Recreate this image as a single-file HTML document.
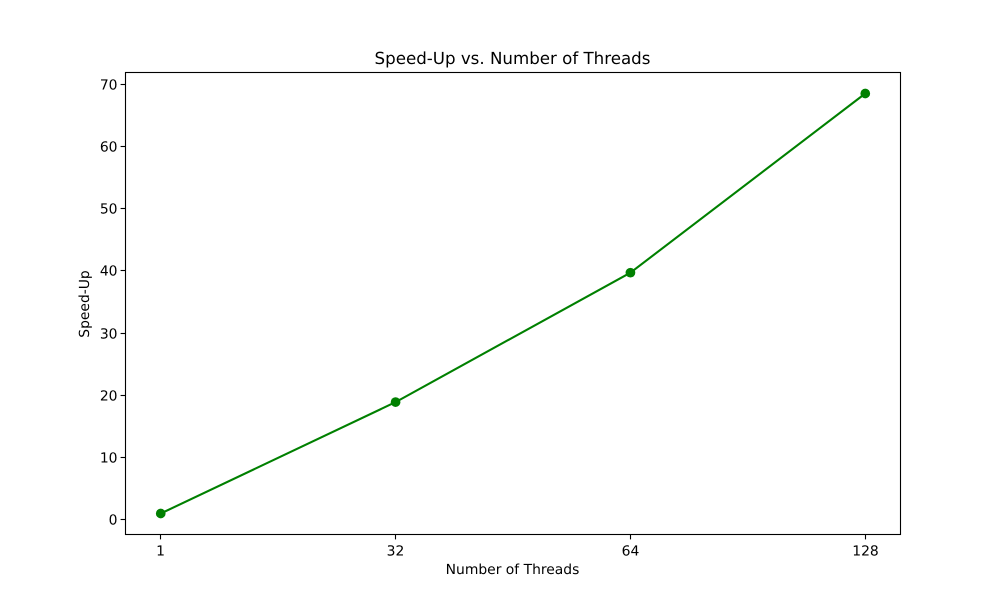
<!DOCTYPE html>
<html lang="en">
<head>
<meta charset="utf-8">
<title>Speed-Up vs. Number of Threads</title>
<style>
  html, body { margin: 0; padding: 0; background: #fff; }
  svg { display: block; font-family: "DejaVu Sans", "Liberation Sans", sans-serif; fill: #000; text-rendering: geometricPrecision; }
</style>
</head>
<body>
<svg id="chart" xmlns="http://www.w3.org/2000/svg" width="1000" height="600" viewBox="0 0 1000 600">
  <rect x="0" y="0" width="1000" height="600" fill="#fff"/>
  <text x="512.5" y="64" font-size="16.67px" text-anchor="middle">Speed-Up vs. Number of Threads</text>
  <text x="512.5" y="574" font-size="13.89px" text-anchor="middle">Number of Threads</text>
  <text transform="translate(89 304) rotate(-90)" font-size="13.89px" text-anchor="middle">Speed-Up</text>
  <g id="y-axis"></g>
  <g id="x-axis"></g>
  <g id="series"></g>
  <rect x="125.5" y="72.5" width="775" height="462" fill="none" stroke="#000" stroke-width="1.11"/>
</svg>
<script>
const threadCounts = ['1', '32', '64', '128'];
const speedUpValues = [1, 18.9, 39.7, 68.5];
const yTickValues = [0, 10, 20, 30, 40, 50, 60, 70];

const SVG_NS = 'http://www.w3.org/2000/svg';
const plot = { left: 125.5, right: 900.5, top: 72.5, bottom: 534.5 };

function xScale(index) {
  const unit = (plot.right - plot.left) / ((threadCounts.length - 1) * 1.1);
  return plot.left + (index + (threadCounts.length - 1) * 0.05) * unit;
}

const minValue = Math.min(...speedUpValues);
const maxValue = Math.max(...speedUpValues);
const valueMargin = (maxValue - minValue) * 0.05;

function yScale(value) {
  const low = minValue - valueMargin;
  const high = maxValue + valueMargin;
  return plot.bottom - (value - low) / (high - low) * (plot.bottom - plot.top);
}

function snap(position) {
  return Math.floor(position) + 0.5;
}

function make(tag, attrs, text) {
  const el = document.createElementNS(SVG_NS, tag);
  Object.keys(attrs).forEach(function (key) { el.setAttribute(key, attrs[key]); });
  if (text !== undefined) el.textContent = text;
  return el;
}

const yAxis = document.getElementById('y-axis');
yTickValues.forEach(function (value) {
  const y = snap(yScale(value));
  const tick = make('line', { x1: plot.left - 4.9, x2: plot.left, y1: y, y2: y, stroke: '#000', 'stroke-width': 1.11 });
  
  
  yAxis.appendChild(tick);
  const label = make('text', { x: plot.left - 8, y: y + 5, 'font-size': '13.89px', 'text-anchor': 'end' }, String(value));
  
  
  yAxis.appendChild(label);
});

const xAxis = document.getElementById('x-axis');
threadCounts.forEach(function (count, index) {
  const x = snap(xScale(index));
  const tick = make('line', { x1: x, x2: x, y1: plot.bottom, y2: plot.bottom + 4.9, stroke: '#000', 'stroke-width': 1.11 });
  
  
  xAxis.appendChild(tick);
  const label = make('text', { x: x, y: plot.bottom + 21, 'font-size': '13.89px', 'text-anchor': 'middle' }, count);
  
  
  xAxis.appendChild(label);
});

const series = document.getElementById('series');
const linePoints = speedUpValues.map(function (value, index) {
  return xScale(index).toFixed(2) + ',' + yScale(value).toFixed(2);
}).join(' ');
const line = make('polyline', { points: linePoints, fill: 'none', stroke: '#008000', 'stroke-width': 2.08, 'stroke-linejoin': 'round' });


series.appendChild(line);

speedUpValues.forEach(function (value, index) {
  const point = make('circle', { cx: xScale(index), cy: yScale(value), r: 4.86, fill: '#008000' });
  
  
  series.appendChild(point);
});
</script>
</body>
</html>
